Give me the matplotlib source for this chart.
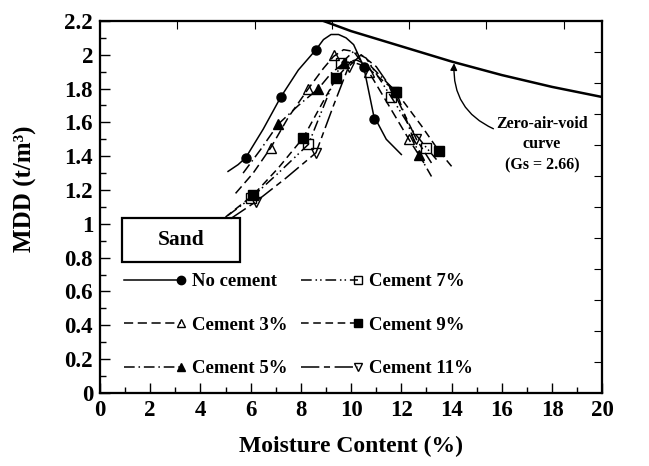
import matplotlib
matplotlib.use('Agg')
import matplotlib.pyplot as plt
from matplotlib.legend_handler import HandlerLine2D
from matplotlib.lines import Line2D
from matplotlib.patches import Rectangle
from matplotlib.ticker import MultipleLocator

plt.rcParams.update({
    'font.family': 'Liberation Serif',
    'font.weight': 'bold',
    'axes.labelweight': 'bold',
    'axes.linewidth': 1.5,
})

# compaction test points (moisture %, MDD t/m3)
nc_w = [5.8, 7.2, 8.6, 10.5, 10.9]
nc_d = [1.39, 1.75, 2.03, 1.93, 1.62]
c3_w = [6.8, 8.3, 9.3, 10.7, 12.3]
c3_d = [1.45, 1.80, 2.00, 1.90, 1.50]
c5_w = [7.1, 8.7, 9.7, 11.8, 12.7]
c5_d = [1.59, 1.80, 1.95, 1.78, 1.41]
c7_w = [6.0, 8.3, 9.6, 11.6, 13.0]
c7_d = [1.15, 1.47, 1.95, 1.75, 1.45]
c9_w = [6.1, 8.1, 9.4, 11.8, 13.5]
c9_d = [1.17, 1.51, 1.86, 1.78, 1.43]
c11_w = [6.2, 8.6, 9.9, 11.7, 12.6]
c11_d = [1.13, 1.42, 1.93, 1.78, 1.50]

# fitted compaction curves
nc_fw = [5.1, 5.5, 5.8, 6.5, 7.2, 7.9, 8.6, 8.9, 9.2, 9.5, 9.8, 10.1, 10.5, 10.9, 11.4, 12.0]
nc_fd = [1.31, 1.35, 1.39, 1.56, 1.75, 1.91, 2.03, 2.09, 2.12, 2.12, 2.10, 2.06, 1.93, 1.64, 1.50, 1.41]
c3_fw = [5.4, 6.1, 6.8, 7.5, 8.3, 8.9, 9.3, 9.7, 10.1, 10.7, 11.5, 12.3, 12.9]
c3_fd = [1.18, 1.30, 1.45, 1.63, 1.80, 1.92, 1.99, 2.03, 2.02, 1.90, 1.70, 1.50, 1.36]
c5_fw = [5.7, 6.4, 7.1, 7.9, 8.7, 9.2, 9.7, 10.2, 10.8, 11.8, 12.7, 13.2]
c5_fd = [1.30, 1.44, 1.59, 1.70, 1.80, 1.89, 1.95, 1.97, 1.93, 1.78, 1.41, 1.28]
c7_fw = [5.1, 6.0, 7.1, 8.3, 9.0, 9.6, 10.1, 10.6, 11.6, 12.4, 13.0, 13.4]
c7_fd = [1.05, 1.15, 1.30, 1.47, 1.73, 1.95, 2.02, 1.98, 1.75, 1.56, 1.45, 1.38]
c9_fw = [5.0, 6.1, 7.1, 8.1, 8.8, 9.4, 10.0, 10.6, 11.8, 12.8, 13.5, 14.0]
c9_fd = [1.04, 1.17, 1.33, 1.51, 1.70, 1.86, 1.96, 1.93, 1.78, 1.58, 1.43, 1.34]
c11_fw = [5.2, 6.2, 7.4, 8.6, 9.3, 9.9, 10.4, 11.0, 11.7, 12.6, 13.2]
c11_fd = [1.03, 1.13, 1.27, 1.42, 1.70, 1.93, 2.00, 1.93, 1.78, 1.50, 1.36]

# zero-air-void line, Gs = 2.66
zav_w = [8.9, 10, 12, 14, 16, 18, 20]
zav_d = [2.20, 2.14, 2.05, 1.96, 1.88, 1.81, 1.75]

series = [
    ('No cement', nc_w, nc_d, nc_fw, nc_fd, 'o', 'k', None),
    ('Cement 3%', c3_w, c3_d, c3_fw, c3_fd, '^', 'none', (6, 3)),
    ('Cement 5%', c5_w, c5_d, c5_fw, c5_fd, '^', 'k', (7, 2.5, 1, 2.5)),
    ('Cement 7%', c7_w, c7_d, c7_fw, c7_fd, 's', 'none', (7, 2.5, 1, 2, 1, 2.5)),
    ('Cement 9%', c9_w, c9_d, c9_fw, c9_fd, 's', 'k', (5, 3)),
    ('Cement 11%', c11_w, c11_d, c11_fw, c11_fd, 'v', 'none', (12, 3, 4, 3)),
]


class EndMarker(HandlerLine2D):
    # line sample with the marker sitting on its right end
    def create_artists(self, legend, orig_handle, xdescent, ydescent,
                       width, height, fontsize, trans):
        y = (height - ydescent) / 2
        line = Line2D([-xdescent, -xdescent + width], [y, y])
        self.update_prop(line, orig_handle, legend)
        line.set_marker('None')
        mark = Line2D([-xdescent + width], [y])
        self.update_prop(mark, orig_handle, legend)
        mark.set_linestyle('None')
        line.set_transform(trans)
        mark.set_transform(trans)
        return [line, mark]


fig = plt.figure(figsize=(6.49, 4.66), dpi=100)
ax = fig.add_axes([0.154, 0.157, 0.774, 0.798])

handles = []
for name, w, d, fw, fd, mk, fc, dash in series:
    line, = ax.plot(fw, fd, color='k', lw=1.1)
    ax.plot(w, d, ls='none', marker=mk, ms=6.5, mfc=fc, mec='k', mew=1.0)
    h, = ax.plot([], [], color='k', lw=1.1, marker=mk, ms=6, mfc=fc, mec='k', mew=1.0, label=name)
    if dash is not None:
        line.set_dashes(dash)
        h.set_dashes(dash)
    handles.append(h)

ax.plot(zav_w, zav_d, color='k', lw=1.8)
ax.annotate('Zero-air-void\ncurve\n(Gs = 2.66)', xy=(14.1, 1.95), xytext=(17.6, 1.47),
            ha='center', va='center', fontsize=11.5, linespacing=1.4,
            arrowprops=dict(arrowstyle='-|>', color='k', lw=1.0,
                            shrinkA=0, shrinkB=0, mutation_scale=10,
                            connectionstyle='arc3,rad=-0.35',
                            relpos=(0.0, 0.75)))

ax.set_xlim(0, 20)
ax.set_ylim(0, 2.2)
ax.xaxis.set_major_locator(MultipleLocator(2))
ax.xaxis.set_minor_locator(MultipleLocator(1))
ax.yaxis.set_minor_locator(MultipleLocator(0.1))
ax.set_yticks([0, 0.2, 0.4, 0.6, 0.8, 1, 1.2, 1.4, 1.6, 1.8, 2, 2.2],
              ['0', '0.2', '0.4', '0.6', '0.8', '1', '1.2', '1.4', '1.6', '1.8', '2', '2.2'])
ax.tick_params(which='both', direction='in', labelsize=16.5)
ax.tick_params(which='major', length=7, width=1, pad=5)
ax.tick_params(which='minor', length=4, width=1)
ax.set_xlabel('Moisture Content (%)', fontsize=17, labelpad=11)
ax.set_ylabel('MDD (t/m³)', fontsize=18)
ax.yaxis.set_label_coords(-0.125, 0.55)

# unlabelled ticks on the top and right frame
top = ax.twiny()
top.set_xlim(0, 6.5)
top.set_xticks([1, 2, 3, 4, 5, 6])
top.tick_params(direction='in', length=6, labeltop=False)
right = ax.twinx()
right.set_ylim(0, 12)
right.set_yticks(range(1, 12))
right.tick_params(direction='in', length=6, labelright=False)

ax.add_patch(Rectangle((0.044, 0.352), 0.235, 0.118, transform=ax.transAxes,
                       fill=False, lw=1.6, ec='k'))
ax.text(0.1615, 0.411, 'Sand', transform=ax.transAxes, ha='center', va='center', fontsize=15.5)

ax.legend(handles=handles, ncol=2, frameon=False, loc='upper left',
          bbox_to_anchor=(0.015, 0.367), fontsize=13.5, handlelength=3.0,
          handletextpad=0.6, columnspacing=0.75, labelspacing=1.4, borderpad=0.4,
          handler_map={h: EndMarker() for h in handles})

fig.savefig('out.png', dpi=100)
